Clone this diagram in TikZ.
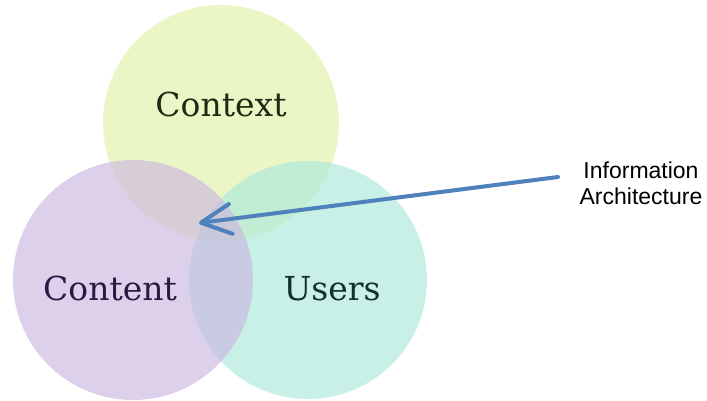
\documentclass[tikz,border=0pt]{standalone}
\usepackage{fontspec}
\setmainfont{DejaVu Serif}
\newfontfamily\arialfont{Liberation Sans}
\usetikzlibrary{arrows.meta}
\definecolor{ctxfill}{RGB}{225,241,166}
\definecolor{cntfill}{RGB}{203,182,225}
\definecolor{usrfill}{RGB}{169,232,219}
\definecolor{ctxtext}{RGB}{28,44,20}
\definecolor{cnttext}{RGB}{40,26,66}
\definecolor{usrtext}{RGB}{18,48,44}
\definecolor{arrowblue}{RGB}{79,129,189}
\tikzset{
  vennfill/.style={fill=#1, fill opacity=0.64},
  vennlabel/.style={font=\fontsize{33}{36}\selectfont, anchor=base},
  iaarrow/.style={draw=arrowblue, line width=4pt, line cap=round,
    -{Straight Barb[length=30pt,width=30pt,round]}},
  note/.style={font=\arialfont\fontsize{23}{26}\selectfont, align=center, text=black}
}
\begin{document}
\begin{tikzpicture}[x=1pt,y=-1pt]
  \useasboundingbox (0,0) rectangle (707,401);
  \fill[white] (0,0) rectangle (707,401);
  \fill[vennfill=ctxfill] (221,123) circle (118);
  \fill[vennfill=usrfill] (308,280) circle (119);
  \fill[vennfill=cntfill] (133,280) circle (120);
  \node[vennlabel, text=ctxtext] (context) at (221,117) {Context};
  \node[vennlabel, text=cnttext] (content) at (110,300) {Content};
  \node[vennlabel, text=usrtext] (users) at (332,300) {Users};
  \node[note] (ia) at (641,183) {Information\\Architecture};
  \coordinate (astart) at (558,177);
  \coordinate (atip) at (199,223);
  \draw[iaarrow] (astart) -- (atip);
\end{tikzpicture}
\end{document}
